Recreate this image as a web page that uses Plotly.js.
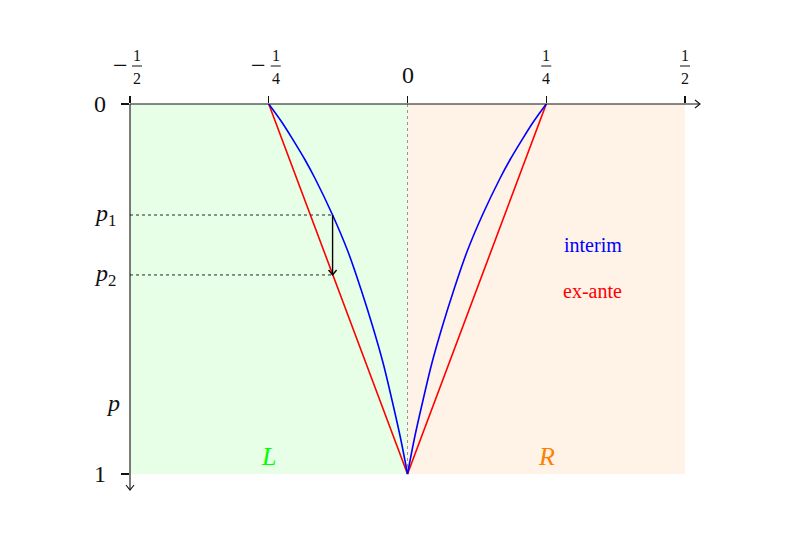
<!DOCTYPE html>
<html>
<head>
<meta charset="utf-8">
<script src="https://cdn.plot.ly/plotly-3.0.1.min.js"></script>
<style>html,body{margin:0;padding:0;background:#fff;}#chart{width:800px;height:537px;}</style>
</head>
<body>
<div id="chart"></div>
<script>
// ---- data ----
const xTickVals = [-0.5, -0.25, 0, 0.25, 0.5];
const xTickLabels = ['-1/2', '-1/4', '0', '1/4', '1/2'];
const yTickVals = [0, 1];
const yTickLabels = ['0', '1'];

const pInterim = [0, 0.05, 0.1, 0.15, 0.2, 0.3, 0.4, 0.5, 0.6, 0.7, 0.8, 0.9, 1];
const interimLeft = [-0.25, -0.226, -0.205, -0.185, -0.167, -0.135, -0.107, -0.084, -0.063, -0.044, -0.028, -0.013, 0];
const interimRight = [0.25, 0.226, 0.205, 0.185, 0.167, 0.135, 0.107, 0.084, 0.063, 0.044, 0.028, 0.013, 0];

const exAnteX = [-0.25, 0, 0.25];
const exAnteP = [0, 1, 0];

const p1 = 0.30, p2 = 0.462, xArrow = -0.135;
const regionL = [-0.5, 0], regionR = [0, 0.5];

// ---- chart ----
const serif = 'Liberation Serif, DejaVu Serif, serif';
const traces = [
  {x: exAnteX, y: exAnteP, mode: 'lines', line: {color: 'rgb(255,0,0)', width: 1.6}, hoverinfo: 'skip'},
  {x: interimLeft, y: pInterim, mode: 'lines', line: {color: 'rgb(0,0,255)', width: 1.6, shape: 'spline'}, hoverinfo: 'skip'},
  {x: interimRight, y: pInterim, mode: 'lines', line: {color: 'rgb(0,0,255)', width: 1.6, shape: 'spline'}, hoverinfo: 'skip'}
];

const axisCol = '#111';
const shapes = [
  {type: 'rect', layer: 'below', xref: 'x', yref: 'y', x0: regionL[0], x1: regionL[1], y0: 0, y1: 1, fillcolor: 'rgb(230,255,230)', line: {width: 0}},
  {type: 'rect', layer: 'below', xref: 'x', yref: 'y', x0: regionR[0], x1: regionR[1], y0: 0, y1: 1, fillcolor: 'rgb(255,242,230)', line: {width: 0}},
  {type: 'line', layer: 'below', xref: 'x', yref: 'y', x0: 0, x1: 0, y0: 0, y1: 1, line: {color: 'rgb(150,150,150)', width: 1, dash: 'dot'}},
  {type: 'line', xref: 'x', yref: 'y', x0: -0.5, x1: xArrow, y0: p1, y1: p1, line: {color: 'rgb(40,40,40)', width: 1, dash: 'dot'}},
  {type: 'line', xref: 'x', yref: 'y', x0: -0.5, x1: xArrow, y0: p2, y1: p2, line: {color: 'rgb(40,40,40)', width: 1, dash: 'dot'}},
  // axis lines (paper refs so they are not clipped)
  {type: 'line', xref: 'paper', yref: 'paper', x0: 0, x1: 1, y0: 1, y1: 1, line: {color: axisCol, width: 1.1}},
  {type: 'line', xref: 'paper', yref: 'paper', x0: 0, x1: 0, y0: 1, y1: 0, line: {color: axisCol, width: 1.1}},
  // axis arrow heads
  {type: 'path', xref: 'paper', yref: 'paper', xsizemode: 'pixel', ysizemode: 'pixel', xanchor: 1, yanchor: 1, path: 'M-5,4 L0,0 L-5,-4', line: {color: axisCol, width: 1.1}},
  {type: 'path', xref: 'paper', yref: 'paper', xsizemode: 'pixel', ysizemode: 'pixel', xanchor: 0, yanchor: 0, path: 'M-4,5 L0,0 L4,5', line: {color: axisCol, width: 1.1}},
  // p1 -> p2 arrow
  {type: 'line', xref: 'x', yref: 'y', x0: xArrow, x1: xArrow, y0: p1, y1: p2, line: {color: '#000', width: 1.4}},
  {type: 'path', xref: 'x', yref: 'y', xsizemode: 'pixel', ysizemode: 'pixel', xanchor: xArrow, yanchor: p2, path: 'M-4,5 L0,0 L4,5', line: {color: '#000', width: 1.4}}
];

const annotations = [];
// x tick labels (fractions)
xTickLabels.forEach((lab, i) => {
  const xv = xTickVals[i];
  const neg = lab.startsWith('-');
  const body = neg ? lab.slice(1) : lab;
  if (body.indexOf('/') < 0) {
    annotations.push({x: xv, y: 1, xref: 'x', yref: 'paper', yanchor: 'middle', yshift: 29, text: body, showarrow: false, font: {family: serif, size: 24, color: '#111'}});
    return;
  }
  const [num, den] = body.split('/');
  const fx = neg ? 7 : 0;
  annotations.push({x: xv, y: 1, xref: 'x', yref: 'paper', yanchor: 'middle', xshift: fx, yshift: 49, text: num, showarrow: false, font: {family: serif, size: 16, color: '#111'}});
  annotations.push({x: xv, y: 1, xref: 'x', yref: 'paper', yanchor: 'middle', xshift: fx, yshift: 26, text: den, showarrow: false, font: {family: serif, size: 16, color: '#111'}});
  shapes.push({type: 'line', xref: 'x', yref: 'paper', xsizemode: 'pixel', ysizemode: 'pixel', xanchor: xv, yanchor: 1, x0: fx - 5, x1: fx + 5, y0: 38, y1: 38, line: {color: '#111', width: 1}});
  if (neg) {
    annotations.push({x: xv, y: 1, xref: 'x', yref: 'paper', yanchor: 'middle', xshift: -10, yshift: 39, text: '\u2212', showarrow: false, font: {family: serif, size: 26, color: '#111'}});
  }
});

// y tick labels
yTickLabels.forEach((lab, i) => {
  annotations.push({x: -0.5, y: yTickVals[i], xref: 'x', yref: 'y', xshift: -30, text: lab, showarrow: false, font: {family: serif, size: 24, color: '#111'}});
});
annotations.push({x: -0.5, y: p1, xref: 'x', yref: 'y', xshift: -25, text: '<i>p</i><sub>1</sub>', showarrow: false, font: {family: serif, size: 24, color: '#111'}});
annotations.push({x: -0.5, y: p2, xref: 'x', yref: 'y', xshift: -25, text: '<i>p</i><sub>2</sub>', showarrow: false, font: {family: serif, size: 24, color: '#111'}});
annotations.push({x: -0.5, y: 0.808, xref: 'x', yref: 'y', xshift: -17, text: '<i>p</i>', showarrow: false, font: {family: serif, size: 24, color: '#111'}});

// region / legend labels
annotations.push({x: -0.25, y: 0.952, xref: 'x', yref: 'y', text: '<i>L</i>', showarrow: false, font: {family: serif, size: 26, color: 'rgb(0,255,0)'}});
annotations.push({x: 0.25, y: 0.952, xref: 'x', yref: 'y', text: '<i>R</i>', showarrow: false, font: {family: serif, size: 26, color: 'rgb(255,128,0)'}});
annotations.push({x: 0.334, y: 0.381, xref: 'x', yref: 'y', text: 'interim', showarrow: false, font: {family: serif, size: 20, color: 'rgb(0,0,255)'}});
annotations.push({x: 0.334, y: 0.505, xref: 'x', yref: 'y', text: 'ex-ante', showarrow: false, font: {family: serif, size: 20, color: 'rgb(255,0,0)'}});

const layout = {
  width: 800, height: 537,
  margin: {l: 130, r: 100, t: 104, b: 47, pad: 0},
  paper_bgcolor: '#fff', plot_bgcolor: 'rgba(0,0,0,0)',
  showlegend: false,
  xaxis: {range: [-0.5, 0.527], side: 'top', showgrid: false, zeroline: false, showline: false,
          tickvals: xTickVals, ticks: 'outside', ticklen: 7, tickcolor: axisCol, tickwidth: 1.1, showticklabels: false, fixedrange: true},
  yaxis: {range: [1.0432, 0], showgrid: false, zeroline: false, showline: false,
          tickvals: yTickVals, ticks: 'outside', ticklen: 8, tickcolor: axisCol, tickwidth: 1.1, showticklabels: false, fixedrange: true},
  shapes: shapes,
  annotations: annotations
};

Plotly.newPlot('chart', traces, layout, {displayModeBar: false, staticPlot: true});
</script>
</body>
</html>
